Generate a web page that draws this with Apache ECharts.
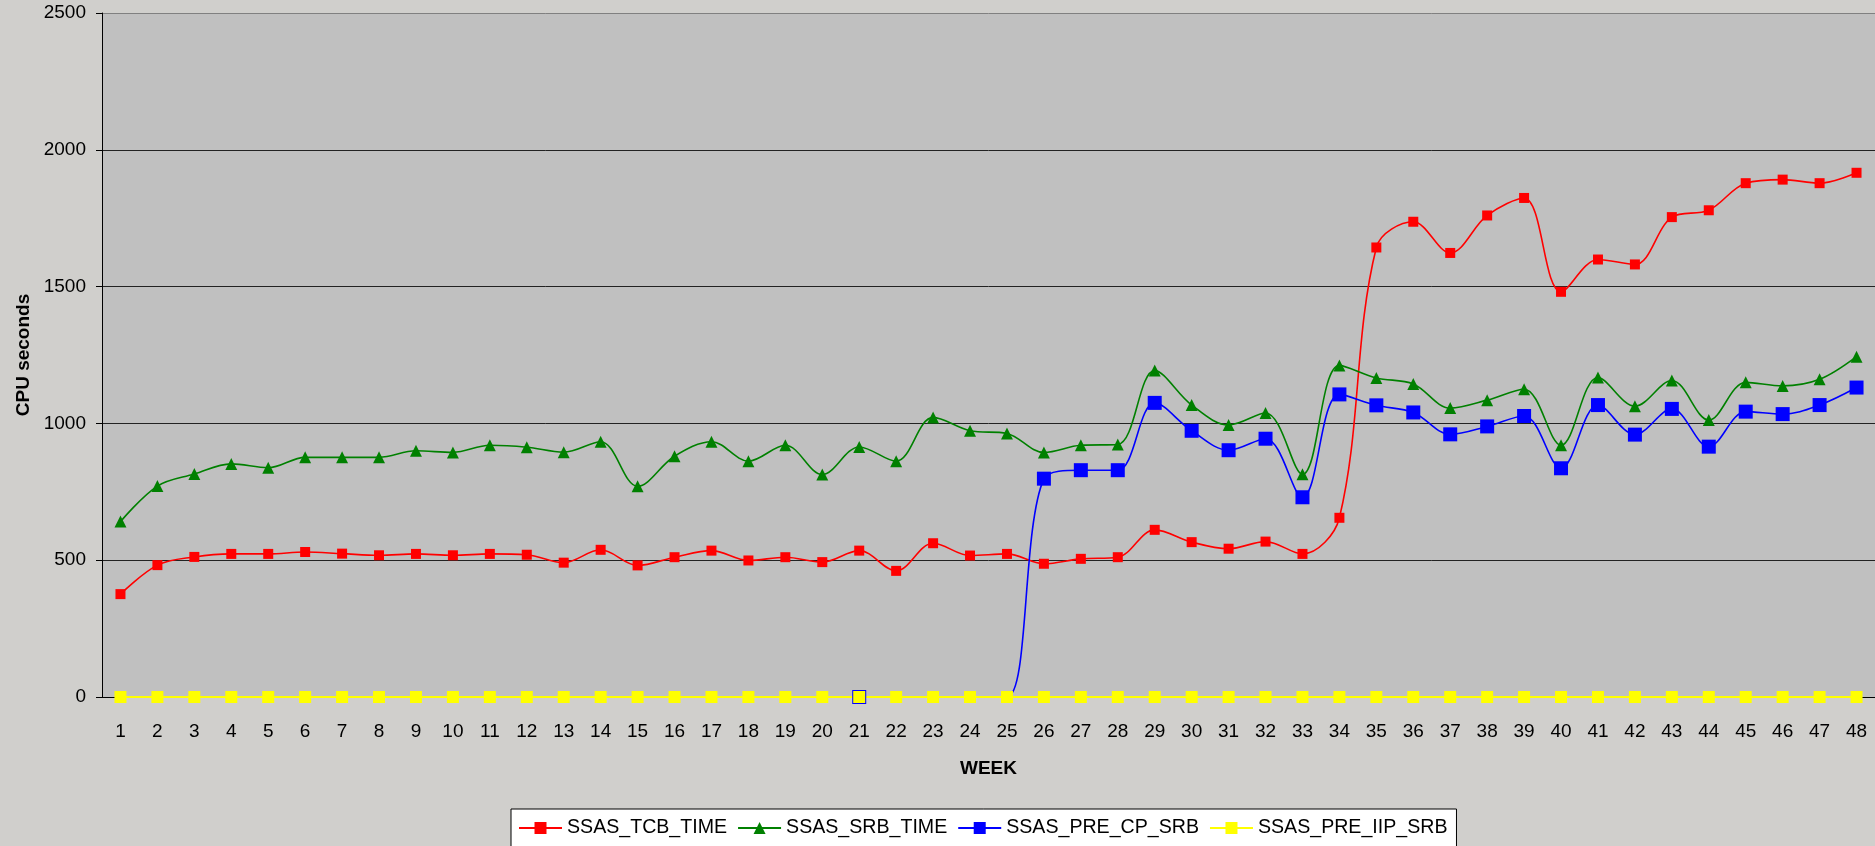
<!DOCTYPE html>
<html>
<head>
<meta charset="utf-8">
<title>CPU seconds by week</title>
<script src="https://cdn.jsdelivr.net/npm/echarts@6/dist/echarts.min.js"></script>
<style>
    html, body { margin: 0; padding: 0; background: #d0cfcc; }
    #chart { width: 1875px; height: 846px; }
</style>
</head>
<body>
<div id="chart"></div>
<script>
var weeks = ['1','2','3','4','5','6','7','8','9','10','11','12','13','14','15','16',
    '17','18','19','20','21','22','23','24','25','26','27','28','29','30','31','32',
    '33','34','35','36','37','38','39','40','41','42','43','44','45','46','47','48'];

var yTicks = [0, 500, 1000, 1500, 2000, 2500];

var tcbTime = [376,482,512,523,523,530,524,518,523,518,523,520,491,538,481,511,
    535,499,511,493,535,461,562,517,523,487,505,511,611,566,542,568,
    523,655,1643,1737,1623,1760,1824,1481,1599,1581,1754,1779,1878,1891,1878,1916];

var srbTime = [641,771,815,852,838,876,876,876,900,894,920,913,895,933,770,880,
    933,862,920,813,914,862,1022,973,963,894,920,923,1193,1067,994,1038,
    814,1212,1166,1144,1056,1085,1125,920,1168,1063,1157,1012,1150,1137,1161,1244];

var preCpSrb = [null,null,null,null,null,null,null,null,null,null,null,null,null,null,null,null,
    null,null,null,null,0,0,0,0,0,798,829,829,1075,973,902,944,
    730,1106,1066,1040,960,989,1027,836,1067,959,1053,915,1043,1034,1067,1131];

var preIipSrb = [0,0,0,0,0,0,0,0,0,0,0,0,0,0,0,0,
    0,0,0,0,0,0,0,0,0,0,0,0,0,0,0,0,
    0,0,0,0,0,0,0,0,0,0,0,0,0,0,0,0];

var font = "'Liberation Sans', Arial, sans-serif";

var myChart = echarts.init(document.getElementById('chart'));
var option = {
    animation: false,
    backgroundColor: '#d0cfcc',
    textStyle: { fontFamily: font },
    grid: {
        left: 102,
        right: 0,
        top: 13,
        bottom: 149,
        show: true,
        backgroundColor: '#c0c0c0',
        borderWidth: 0
    },
    legend: {
        left: 511,
        top: 809,
        backgroundColor: '#fff',
        borderColor: '#000',
        borderWidth: 1,
        padding: [9, 9, 30, 7],
        itemWidth: 43,
        itemHeight: 15,
        itemGap: 10,
        textStyle: { fontSize: 19.6, color: '#000', fontFamily: font },
        data: ['SSAS_TCB_TIME', 'SSAS_SRB_TIME', 'SSAS_PRE_CP_SRB', 'SSAS_PRE_IIP_SRB']
    },
    xAxis: {
        type: 'category',
        data: weeks,
        name: 'WEEK',
        nameLocation: 'middle',
        nameGap: 62,
        nameTextStyle: { fontSize: 19, fontWeight: 'bold', color: '#000', fontFamily: font },
        axisLine: { lineStyle: { color: '#000', width: 1 } },
        axisTick: { length: 6, lineStyle: { color: '#000' } },
        axisLabel: { interval: 0, fontSize: 19, color: '#000', margin: 25, fontFamily: font }
    },
    yAxis: {
        type: 'value',
        min: yTicks[0],
        max: yTicks[yTicks.length - 1],
        interval: 500,
        name: 'CPU seconds',
        nameLocation: 'middle',
        nameGap: 68,
        nameTextStyle: { fontSize: 19, fontWeight: 'bold', color: '#000', fontFamily: font },
        axisLine: { show: true, lineStyle: { color: '#000', width: 1 } },
        axisTick: { show: true, length: 6, lineStyle: { color: '#000' } },
        axisLabel: {
            fontSize: 19, color: '#000', margin: 16, fontFamily: font,
            formatter: function (v) { return String(v); }
        },
        splitLine: {
            show: true,
            lineStyle: { color: ['#444', '#222', '#222', '#222', '#222', '#808080'], width: 1 }
        }
    },
    series: [
        {
            name: 'SSAS_TCB_TIME',
            type: 'line',
            smooth: 0.35,
            symbol: 'rect',
            symbolSize: 10,
            color: '#ff0000',
            lineStyle: { width: 1.6 },
            data: tcbTime
        },
        {
            name: 'SSAS_SRB_TIME',
            type: 'line',
            smooth: 0.35,
            symbol: 'triangle',
            symbolSize: 12,
            color: '#008000',
            lineStyle: { width: 1.6 },
            data: srbTime
        },
        {
            name: 'SSAS_PRE_CP_SRB',
            type: 'line',
            smooth: 0.35,
            symbol: 'rect',
            // only the first zero week shows its own marker, the rest sit under the yellow ones
            symbolSize: function (v, p) {
                var prev = preCpSrb[p.dataIndex - 1];
                return (v === 0 && prev === 0) ? 0 : 14;
            },
            color: '#0000ff',
            lineStyle: { width: 1.6 },
            data: preCpSrb
        },
        {
            name: 'SSAS_PRE_IIP_SRB',
            type: 'line',
            smooth: 0.35,
            symbol: 'rect',
            symbolSize: 12,
            color: '#ffff00',
            lineStyle: { width: 2 },
            data: preIipSrb
        }
    ]
};

myChart.setOption(option);
</script>
</body>
</html>
